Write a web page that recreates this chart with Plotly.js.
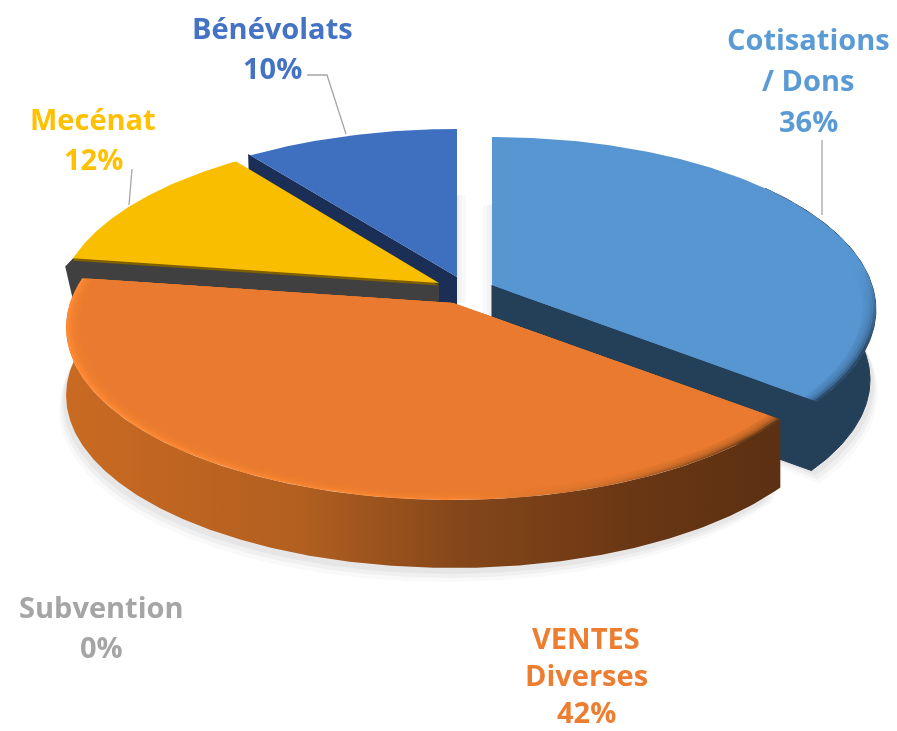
<!DOCTYPE html>
<html><head><meta charset="utf-8">
<script src="https://cdn.plot.ly/plotly-3.0.1.min.js"></script>
<style>html,body{margin:0;padding:0;background:#fff}#c{width:897px;height:731px;filter:blur(0.7px)}</style>
</head><body><div id="c"></div>
<script>
// data (share of each category, clockwise from 12 o'clock)
const categories = ['Cotisations<br>/ Dons', 'VENTES<br>Diverses', 'Subvention', 'Mecénat', 'Bénévolats'];
const shares = [35.8, 41.6, 0, 12.4, 10.2];
const labelColors = ['#5B9BD5', '#ED7D31', '#A5A5A5', '#FFC000', '#4472C4'];
const labelCenters = [[808, 79], [586, 674], [101, 626], [93, 138], [272, 47]];
const labelSpacing = [41, 37, 40, 40, 40];

// projection of the tilted disc
const RK = 169, P = 0.142, DEPTH = 68;
const apex = {0: [492, 285], 1: [453, 303], 3: [439, 283], 4: [457, 277]};
const radii = {0: 380, 1: 383, 3: 378, 4: 385};
function proj(i, th, s, dx, dy) {
  const a = apex[i], X = Math.sin(th) * s, Y = -Math.cos(th) * s, k = 1 / (1 - P * Y);
  return [a[0] + radii[i] * X * k + (dx || 0), a[1] + RK * Y * k + (dy || 0)];
}
const bounds = []; let acc = 0;
shares.forEach(v => { const a = acc / 100 * 2 * Math.PI; acc += v; bounds.push([a, acc / 100 * 2 * Math.PI]); });
function arc(i, t0, t1, s, dx, dy) {
  const n = Math.max(2, Math.ceil(Math.abs(t1 - t0) / 0.012)), pts = [];
  for (let k = 0; k <= n; k++) pts.push(proj(i, t0 + (t1 - t0) * k / n, s, dx, dy));
  return pts;
}
const traces = [];
function poly(pts, fill, grad, edge) {
  const t = {type: 'scatter', mode: 'lines', x: pts.map(p => p[0]).concat(pts[0][0]), y: pts.map(p => p[1]).concat(pts[0][1]),
    fill: 'toself', line: edge ? {width: 1, color: edge} : {width: 0}, hoverinfo: 'skip', showlegend: false};
  if (grad) t.fillgradient = grad; else t.fillcolor = fill;
  traces.push(t);
}
function sector(i, s, fill, grad, dx, dy) {
  const a = apex[i], b = bounds[i];
  poly([[a[0] + (dx || 0), a[1] + (dy || 0)]].concat(arc(i, b[0], b[1], s, dx, dy)), fill, grad);
}
function sideArc(i, t0, t1, botScale, depth, fill, grad, edge) {
  const top = arc(i, t0, t1, 1), bot = arc(i, t0, t1, botScale, 0, depth).reverse();
  poly(top.concat(bot), fill, grad, edge);
}
function cutFace(i, t, s, botScale, depth, fill, dropTip, edge) {
  const a = apex[i], e = proj(i, t, s, 0, dropTip || 0), f = proj(i, t, botScale, 0, depth);
  const pts = dropTip ? [a, proj(i, t, 1), e, f, [a[0], a[1] + depth]] : [a, e, f, [a[0], a[1] + depth]];
  poly(pts, fill, null, edge);
}
function hgrad(x0, x1, scale) { return {type: 'horizontal', start: x0, stop: x1, colorscale: scale}; }
function vgrad(y0, y1, scale) { return {type: 'vertical', start: y0, stop: y1, colorscale: scale}; }
function bevel(i, main, rgb, grad, inner) {
  sector(i, 1, null, grad);
  const steps = 5;
  for (let k = 1; k < steps; k++) sector(i, 1 - (1 - inner) * k / steps, `rgba(${rgb},.4)`);
  sector(i, inner, main);
}

// --- soft shadows
[[-3, 6, .04], [-5, 10, .035], [-7, 14, .025]].forEach(o => {
  poly(arc(1, bounds[1][0], bounds[1][1], 1, o[0], o[1] + DEPTH), `rgba(0,0,0,${o[2]})`);
  const c = apex[0];
  poly([[c[0], c[1] + DEPTH]].concat(arc(0, 0.7, bounds[0][1], .985, -o[0] + 1, o[1] + DEPTH + 2)), `rgba(0,0,0,${o[2]})`);
});
[[9, .025], [5, .025], [2, .025]].forEach(o => {
  poly([[apex[4][0], 195], [apex[4][0] + o[0], 195], [apex[4][0] + o[0], apex[1][1]], [apex[4][0], apex[1][1]]], `rgba(0,0,0,${o[1]})`);
  poly([[apex[0][0], 205], [apex[0][0] - o[0], 205], [apex[0][0] - o[0], apex[0][1] + DEPTH], [apex[0][0], apex[0][1] + DEPTH]], `rgba(0,0,0,${o[1]})`);
});

// --- Bénévolats
cutFace(4, bounds[4][0], 1.012, 1, DEPTH, '#1B2E55');
sector(4, 1, '#3F6FBF');

// --- Mecénat
cutFace(3, bounds[3][0], 1.022, .995, 50, '#404040', 9);
sector(3, 1, '#7F6000', null, 0, 2.5);
sector(3, 1, '#FABE00');

// --- Cotisations / Dons
cutFace(0, bounds[0][1], 1, .985, 71, '#243F58', 0, '#243F58');
sideArc(0, 0.9, bounds[0][1], .985, 71, '#243F58', null, '#243F58');
bevel(0, '#5896D2', '88,150,210', vgrad(265, 350, [[0, '#5896D2'], [1, '#2B4C6C']]), .965);

// --- VENTES Diverses
sideArc(1, bounds[1][0], bounds[1][1], 1, DEPTH, null, hgrad(68, 775, [[0, '#C96A22'], [.33, '#B25F20'], [.55, '#85471A'], [.8, '#6A3714'], [1, '#5C3012']]));
bevel(1, '#E97A2F', '233,122,47', hgrad(68, 775, [[0, '#FF8A33'], [.55, '#F8842F'], [.78, '#C56A28'], [1, '#6B3A15']]), .965);

// --- text
const annotations = [];
categories.forEach((c, i) => {
  const lines = c.split('<br>').concat(Math.round(shares[i]) + '%');
  lines.forEach((t, j) => annotations.push({
    x: labelCenters[i][0], y: labelCenters[i][1] + (j - (lines.length - 1) / 2) * labelSpacing[i],
    xref: 'x', yref: 'y', text: t, showarrow: false, xanchor: 'center', yanchor: 'middle',
    font: {family: '"Open Sans", sans-serif', size: 29, color: labelColors[i], weight: 700}
  }));
});
const leader = (pts) => ({type: 'path', xref: 'x', yref: 'y', layer: 'below', line: {color: '#A6A6A6', width: 1.3},
  path: 'M' + pts.map(p => p.join(',')).join('L')});
const layout = {
  width: 897, height: 731, margin: {l: 0, r: 0, t: 0, b: 0}, paper_bgcolor: '#fff', plot_bgcolor: '#fff', showlegend: false,
  xaxis: {range: [0, 897], visible: false, fixedrange: true},
  yaxis: {range: [731, 0], visible: false, fixedrange: true},
  annotations,
  shapes: [leader([[822, 140], [822, 215]]), leader([[132, 169], [129, 205]]), leader([[307, 75], [327, 75], [346, 134]])]
};
Plotly.newPlot('c', traces, layout, {displayModeBar: false, staticPlot: true});
</script></body></html>
